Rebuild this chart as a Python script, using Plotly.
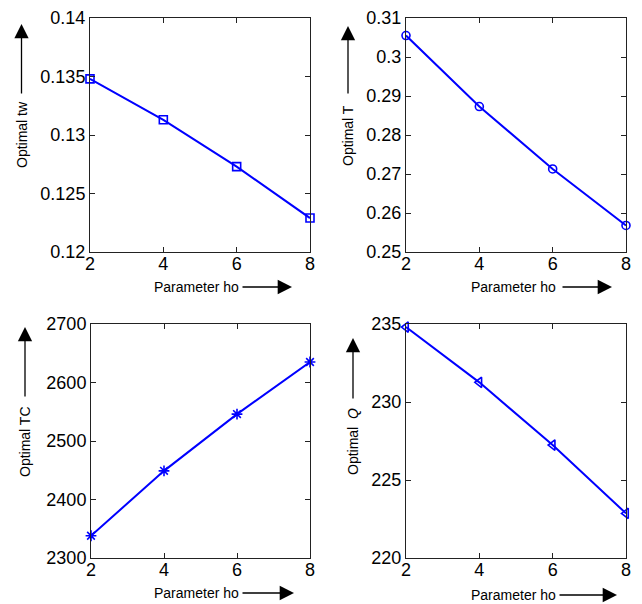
import plotly.graph_objects as go

ho = [2, 4, 6, 8]
tw_vals = [0.1348, 0.1313, 0.1273, 0.1229]
T_vals = [0.3055, 0.2873, 0.2713, 0.2568]
TC_vals = [2338, 2449, 2546, 2635]
Q_vals = [234.8, 231.26, 227.24, 222.86]

x_ticks = [2, 4, 6, 8]
tw_ticks = [0.12, 0.125, 0.13, 0.135, 0.14]
tw_ticklabels = ["0.12", "0.125", "0.13", "0.135", "0.14"]
T_ticks = [0.25, 0.26, 0.27, 0.28, 0.29, 0.30, 0.31]
T_ticklabels = ["0.25", "0.26", "0.27", "0.28", "0.29", "0.3", "0.31"]
TC_ticks = [2300, 2400, 2500, 2600, 2700]
Q_ticks = [220, 225, 230, 235]

W, H = 642, 604
BLUE = "#0000FF"
FONT = "Liberation Sans, Arial, sans-serif"

def px(x):
    return x / W

def py(y):
    return 1 - y / H

panels = [
    (tw_vals, "square-open", 8, [0.12, 0.14], tw_ticks, tw_ticklabels, (90, 310), (18, 252)),
    (T_vals, "circle-open", 8, [0.25, 0.31], T_ticks, T_ticklabels, (406, 626), (18, 252)),
    (TC_vals, "asterisk-open", 9, [2300, 2700], TC_ticks, [str(v) for v in TC_ticks], (91, 310), (324, 558)),
    (Q_vals, "triangle-left-open", 9, [220, 235], Q_ticks, [str(v) for v in Q_ticks], (406, 626), (324, 558)),
]

fig = go.Figure()
layout = dict(
    width=W, height=H,
    margin=dict(l=0, r=0, t=0, b=0, pad=0, autoexpand=False),
    paper_bgcolor="white", plot_bgcolor="white",
    showlegend=False,
    font=dict(family=FONT, color="black"),
)

for i, (vals, sym, ms, yr, yt, ytl, xd, yd) in enumerate(panels, start=1):
    xa = "x" if i == 1 else f"x{i}"
    ya = "y" if i == 1 else f"y{i}"
    fig.add_trace(go.Scatter(
        x=ho, y=vals, xaxis=xa, yaxis=ya, mode="lines+markers",
        line=dict(color=BLUE, width=2),
        marker=dict(symbol=sym, size=ms, color=BLUE, line=dict(color=BLUE, width=1.6)),
        cliponaxis=False,
    ))
    kx = "xaxis" if i == 1 else f"xaxis{i}"
    ky = "yaxis" if i == 1 else f"yaxis{i}"
    layout[kx] = dict(
        domain=[px(xd[0]), px(xd[1])], anchor=ya, range=[2, 8],
        tickvals=x_ticks, ticktext=[str(v) for v in x_ticks],
        ticks="inside", ticklen=5, tickcolor="#222", mirror="ticks",
        showline=True, linecolor="#222", linewidth=1, showgrid=False, zeroline=False,
        automargin=False, ticklabelstandoff=-5,
        tickfont=dict(size=18, family=FONT, color="black"),
    )
    layout[ky] = dict(
        domain=[py(yd[1]), py(yd[0])], anchor=xa, range=yr,
        tickvals=yt, ticktext=ytl,
        ticks="inside", ticklen=5, tickcolor="#222", mirror="ticks",
        showline=True, linecolor="#222", linewidth=1, showgrid=False, zeroline=False,
        automargin=False,
        tickfont=dict(size=18, family=FONT, color="black"),
    )

fig.update_layout(**layout)

annotations = []
xlabels = [
    (196.5, 287, 241, 292),
    (513, 287, 561, 612),
    (196.5, 593, 241, 294),
    (513, 595, 558, 617),
]
for cx, cy, a0, a1 in xlabels:
    annotations.append(dict(text="Parameter ho", x=px(cx), y=py(cy), xref="paper", yref="paper",
                            showarrow=False, font=dict(size=14, family=FONT, color="black"),
                            xanchor="center", yanchor="middle"))
    annotations.append(dict(text="", x=px(a1), y=py(cy), xref="paper", yref="paper",
                            ax=-(a1 - a0), ay=0, axref="pixel", ayref="pixel",
                            showarrow=True, arrowhead=2, arrowsize=2.2, arrowwidth=1.3,
                            arrowcolor="black", standoff=0, startstandoff=0))

ylabels = [
    (21.5, 134.5, 95, 24, "Optimal tw"),
    (348, 135, 95, 26, "Optimal T"),
    (25, 442, 398, 327, "Optimal TC"),
    (353, 442, 400, 338, "Optimal  <i>Q</i>"),
]
for x, cy, a0, a1, t in ylabels:
    annotations.append(dict(text=t, x=px(x), y=py(cy), xref="paper", yref="paper",
                            showarrow=False, textangle=-90,
                            font=dict(size=14, family=FONT, color="black"),
                            xanchor="center", yanchor="middle"))
    annotations.append(dict(text="", x=px(x), y=py(a1), xref="paper", yref="paper",
                            ax=0, ay=(a0 - a1), axref="pixel", ayref="pixel",
                            showarrow=True, arrowhead=2, arrowsize=2.2, arrowwidth=1.3,
                            arrowcolor="black", standoff=0, startstandoff=0))

fig.update_layout(annotations=annotations)
fig.write_html(
    "out.html",
    config={"displayModeBar": False},
    post_script="document.body.style.margin='0';document.body.style.overflow='hidden';",
)
